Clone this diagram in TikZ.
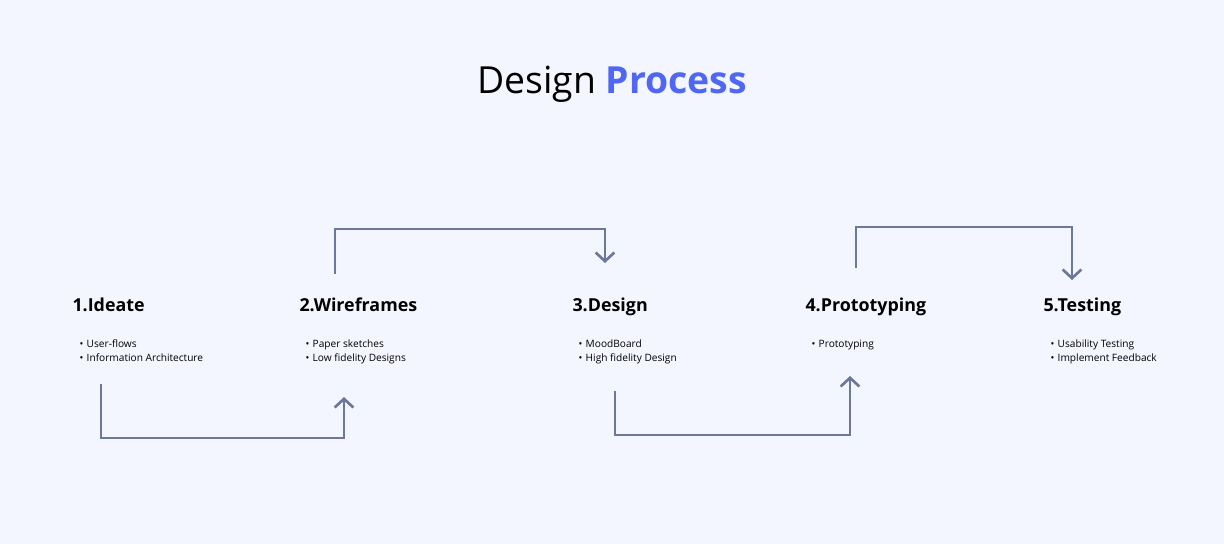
\documentclass[tikz,border=0pt]{standalone}
\usepackage{fontspec}
\setmainfont{Open Sans}
\usetikzlibrary{arrows.meta}
\definecolor{bgcol}{HTML}{F3F6FE}
\definecolor{linecol}{HTML}{6B7898}
\definecolor{bluecol}{HTML}{5067F5}
\newcommand{\bl}{\makebox[5.4pt][l]{\textbullet}}

\begin{document}
\begin{tikzpicture}[x=0.75pt,y=-0.75pt,thick,
  every node/.style={inner sep=0pt,anchor=base west},
  stage/.style={font=\fontsize{13.4}{16}\selectfont\bfseries},
  items/.style={font=\fontsize{7.6}{10.5}\selectfont,align=left},
  flow/.style={draw=linecol,line width=2pt,-{Straight Barb[length=6.5pt,width=14pt,line width=2pt]}}]
  \fill[bgcol] (0,0) rectangle (1224,544);
  \node[anchor=base] (title) at (612,93) {\fontsize{28}{32}\selectfont Design \textcolor{bluecol}{\bfseries Process}};
  \node[stage] (1) at (72,311) {1.Ideate};
  \node[stage] (2) at (299,311) {2.Wireframes};
  \node[stage] (3) at (572,311) {3.Design};
  \node[stage] (4) at (805,311) {4.Prototyping};
  \node[stage] (5) at (1043,311) {5.Testing};
  % base of a list is its last line
  \node[items] (l1) at (79,361) {\bl User-flows\\\bl Information Architecture};
  \node[items] (l2) at (305,361) {\bl Paper sketches\\\bl Low fidelity Designs};
  \node[items] (l3) at (578,361) {\bl MoodBoard\\\bl High fidelity Design};
  \node[items] (l4) at (811,347) {\bl Prototyping};
  \node[items] (l5) at (1050,361) {\bl Usability Testing\\\bl Implement Feedback};
  \coordinate (a1) at (101,384); \coordinate (b1) at (344,397);
  \coordinate (a2) at (335,274); \coordinate (b2) at (605,263);
  \coordinate (a3) at (615,391); \coordinate (b3) at (850,376);
  \coordinate (a4) at (856,268); \coordinate (b4) at (1072,280);
  \draw[flow] (a1) -- (101,438) -| (b1);
  \draw[flow] (a2) -- (335,229) -| (b2);
  \draw[flow] (a3) -- (615,435) -| (b3);
  \draw[flow] (a4) -- (856,227) -| (b4);
\end{tikzpicture}
\end{document}
